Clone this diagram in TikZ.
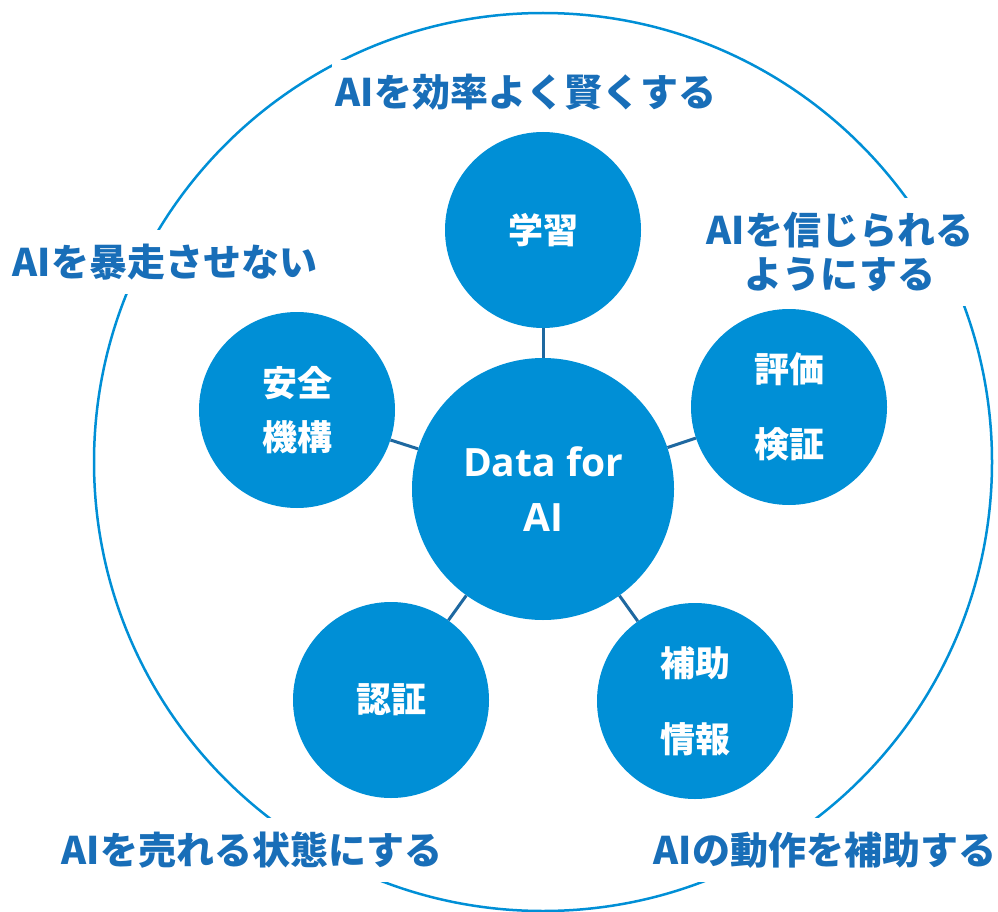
\documentclass[tikz,border=0pt]{standalone}
\usepackage{fontspec}
\newfontfamily\jpfont{Noto Sans CJK JP}
\newfontfamily\latfont{Open Sans}
\definecolor{circblue}{RGB}{0,143,214}
\definecolor{linkblue}{RGB}{30,104,160}
\definecolor{labelblue}{RGB}{24,110,184}
\begin{document}
\begin{tikzpicture}[x=1pt,y=-1pt,
  hub/.style={circle, fill=circblue, inner sep=0pt, minimum size=262pt, text=white,
    font=\latfont\bfseries\fontsize{39}{55}\selectfont, align=center},
  topic/.style={circle, fill=circblue, inner sep=0pt, minimum size=196pt, text=white, align=center},
  jpin/.style={font=\jpfont\bfseries\fontsize{35}{#1}\selectfont},
  goal/.style={fill=white, text=labelblue, font=\jpfont\bfseries\fontsize{38}{44}\selectfont,
    inner xsep=4pt, inner ysep=14pt, align=center},
  link/.style={draw=linkblue, line width=3pt}]
\useasboundingbox (0,0) rectangle (998,912);

% outer ring
\node[circle, draw=circblue, line width=2.5pt, minimum size=898pt, inner sep=0pt] (ring) at (543,462) {};

% goal captions (white boxes break the ring)
\node[goal] (g1) at (526,92) {AIを効率よく賢くする};
\node[goal] (g2) at (165,262) {AIを暴走させない};
\node[goal] (g3) at (840,252) {AIを信じられる\\ようにする};
\node[goal] (g4) at (252,850) {AIを売れる状態にする};
\node[goal] (g5) at (825,850) {AIの動作を補助する};

% hub and topics
\node[hub] (hub) at (543,489) {Data for\\AI};
\node[topic, jpin=42] (learn) at (543,230) {学習};
\node[topic, jpin=75] (eval) at (789,407) {評価\\検証};
\node[topic, jpin=76] (aux) at (695,701) {補助\\情報};
\node[topic, jpin=42] (cert) at (391,700) {認証};
\node[topic, jpin=54] (safe) at (297,410) {安全\\機構};

% links
\draw[link] (hub) -- (learn);
\draw[link] (hub) -- (eval);
\draw[link] (hub) -- (aux);
\draw[link] (hub) -- (cert);
\draw[link] (hub) -- (safe);
\end{tikzpicture}
\end{document}
